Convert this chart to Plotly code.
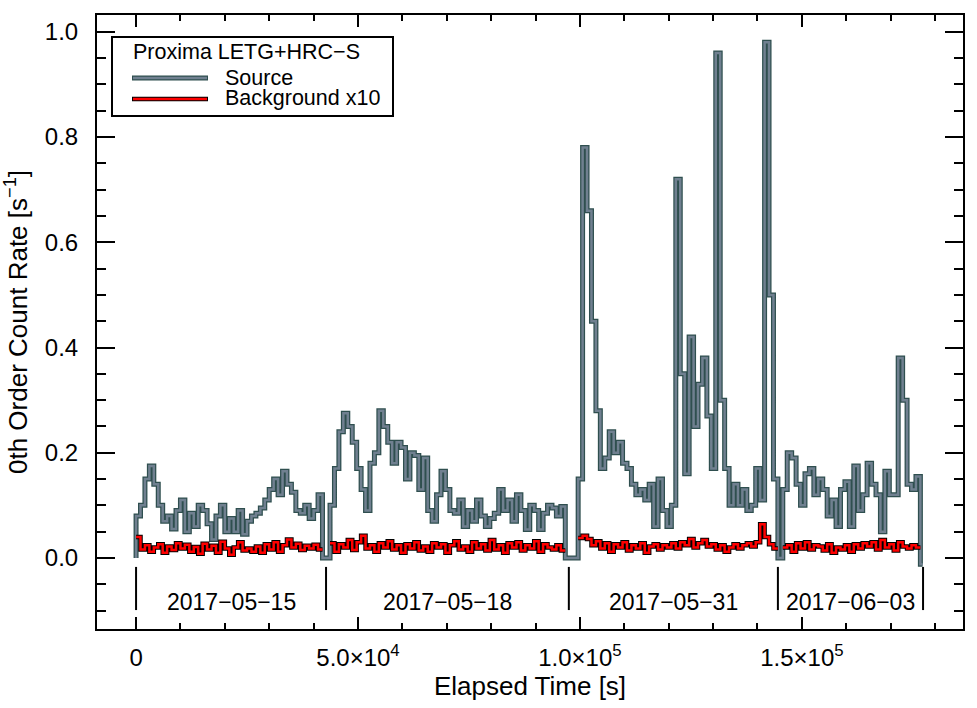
import numpy as np
import plotly.graph_objects as go

# ---------------- data ----------------
BIN = 1000.0  # s
seg_starts = [0.0, 43700.0, 99600.0, 145700.0]

src_seg1 = [0.08, 0.10, 0.15, 0.175, 0.14, 0.10, 0.07, 0.08, 0.055, 0.09, 0.11, 0.05, 0.085, 0.06,
            0.10, 0.09, 0.065, 0.035, 0.08, 0.10, 0.05, 0.075, 0.05, 0.09, 0.045, 0.07, 0.08, 0.085,
            0.095, 0.11, 0.13, 0.15, 0.12, 0.165, 0.14, 0.125, 0.09, 0.085, 0.10, 0.075, 0.09, 0.12]
src_seg2 = [0.10, 0.17, 0.24, 0.275, 0.25, 0.22, 0.17, 0.13, 0.09, 0.18, 0.20, 0.28, 0.25, 0.22,
            0.18, 0.22, 0.21, 0.15, 0.20, 0.195, 0.13, 0.19, 0.09, 0.07, 0.12, 0.165, 0.13, 0.09,
            0.085, 0.11, 0.06, 0.09, 0.07, 0.11, 0.08, 0.06, 0.075, 0.085, 0.13, 0.09, 0.11, 0.07,
            0.12, 0.09, 0.054, 0.10, 0.09, 0.054, 0.085, 0.10, 0.095, 0.08, 0.098]
src_seg3 = [0.15, 0.78, 0.66, 0.45, 0.28, 0.17, 0.19, 0.24, 0.20, 0.22, 0.18, 0.17, 0.14, 0.12,
            0.13, 0.11, 0.14, 0.06, 0.15, 0.09, 0.06, 0.10, 0.72, 0.35, 0.16, 0.42, 0.25, 0.33,
            0.38, 0.27, 0.17, 0.96, 0.30, 0.17, 0.10, 0.14, 0.10, 0.13, 0.09, 0.10, 0.17, 0.11,
            0.98, 0.50, 0.15]
src_seg4 = [0.13, 0.20, 0.19, 0.14, 0.10, 0.16, 0.17, 0.12, 0.15, 0.13, 0.08, 0.11, 0.06, 0.13,
            0.145, 0.06, 0.175, 0.09, 0.12, 0.18, 0.14, 0.12, 0.05, 0.165, 0.12, 0.12, 0.38, 0.30,
            0.14, 0.13, 0.155]
src_end_value = -0.012

bkg_seg1 = [0.040, 0.016, 0.024, 0.012, 0.020, 0.026, 0.010, 0.022, 0.015, 0.028, 0.018, 0.025,
            0.012, 0.021, 0.008, 0.027, 0.016, 0.023, 0.010, 0.031, 0.018, 0.006, 0.020, 0.030,
            0.014, 0.018, 0.012, 0.022, 0.010, 0.026, 0.016, 0.030, 0.012, 0.024, 0.035, 0.020,
            0.027, 0.015, 0.023, 0.018, 0.025, 0.016]
bkg_seg2 = [0.028, 0.012, 0.026, 0.020, 0.034, 0.015, 0.030, 0.042, 0.018, 0.024, 0.012, 0.028,
            0.020, 0.032, 0.016, 0.024, 0.010, 0.026, 0.018, 0.030, 0.014, 0.022, 0.012, 0.028,
            0.020, 0.026, 0.010, 0.024, 0.032, 0.016, 0.022, 0.012, 0.030, 0.018, 0.026, 0.014,
            0.034, 0.016, 0.024, 0.010, 0.028, 0.020, 0.030, 0.014, 0.024, 0.018, 0.032, 0.012,
            0.026, 0.020, 0.016, 0.024, 0.014]
bkg_seg3 = [0.038, 0.042, 0.036, 0.024, 0.032, 0.018, 0.028, 0.012, 0.026, 0.020, 0.030, 0.014,
            0.024, 0.018, 0.028, 0.010, 0.022, 0.026, 0.016, 0.024, 0.020, 0.028, 0.018, 0.030,
            0.024, 0.036, 0.020, 0.028, 0.034, 0.022, 0.026, 0.016, 0.024, 0.012, 0.020, 0.026,
            0.018, 0.024, 0.028, 0.022, 0.030, 0.064, 0.040, 0.026, 0.018]
bkg_seg4 = [0.020, 0.024, 0.012, 0.028, 0.018, 0.030, 0.016, 0.024, 0.022, 0.014, 0.026, 0.010,
            0.020, 0.016, 0.024, 0.012, 0.026, 0.018, 0.028, 0.022, 0.030, 0.016, 0.034, 0.020,
            0.026, 0.014, 0.030, 0.022, 0.018, 0.024, 0.020]

obs_bounds = [0.0, 42800.0, 97500.0, 144600.0, 177300.0]
obs_dates = ["2017−05−15", "2017−05−18", "2017−05−31", "2017−06−03"]

x_tickvals = [0, 50000, 100000, 150000]
x_ticktext = ["0", "5.0×10<sup>4</sup>", "1.0×10<sup>5</sup>", "1.5×10<sup>5</sup>"]

# ---------------- build step curves ----------------
src_segs = [src_seg1, src_seg2, src_seg3, src_seg4]
bkg_segs = [bkg_seg1, bkg_seg2, bkg_seg3, bkg_seg4]

sx, sy = [0.0], [0.0]
for s0, vals in zip(seg_starts, src_segs):
    n = len(vals)
    sx += list(s0 + BIN * np.arange(n))
    sy += list(vals)
    end = s0 + BIN * n
    if s0 != seg_starts[-1]:
        sx.append(end); sy.append(0.0)
    else:
        sx.append(end); sy.append(src_end_value)
        sx.append(end + 500); sy.append(src_end_value)

bx, by = [], []
for s0, vals in zip(seg_starts, bkg_segs):
    n = len(vals)
    bx += list(s0 + BIN * np.arange(n)) + [s0 + BIN * n, None]
    by += list(vals) + [vals[-1], None]

FONT = "Liberation Sans, Arial, Helvetica, sans-serif"
fig = go.Figure()

# source: dark outline + slate fill
fig.add_trace(go.Scatter(x=sx, y=sy, mode="lines", line=dict(shape="hv", color="#2F4F4F", width=5),
                         showlegend=False, hoverinfo="skip"))
fig.add_trace(go.Scatter(x=sx, y=sy, mode="lines", line=dict(shape="hv", color="#708090", width=2.5),
                         showlegend=False))
# background x10: black outline + red
fig.add_trace(go.Scatter(x=bx, y=by, mode="lines", connectgaps=False,
                         line=dict(shape="hv", color="black", width=4.5), showlegend=False, hoverinfo="skip"))
fig.add_trace(go.Scatter(x=bx, y=by, mode="lines", connectgaps=False,
                         line=dict(shape="hv", color="#FF0000", width=2.5), showlegend=False))

# observation boundaries and date labels
mx, my = [], []
for b in obs_bounds:
    mx += [b, b, None]
    my += [-0.017, -0.099, None]
fig.add_trace(go.Scatter(x=mx, y=my, mode="lines", line=dict(color="black", width=2),
                         showlegend=False, hoverinfo="skip"))
for i, d in enumerate(obs_dates):
    fig.add_annotation(x=(obs_bounds[i] + obs_bounds[i + 1]) / 2, y=-0.084, text=d, showarrow=False,
                       font=dict(family=FONT, size=23, color="black"), xanchor="center", yanchor="middle")

# ---------------- legend (drawn manually) ----------------
L, R, T, B = 97, 963, 15, 629
W, H = R - L, B - T
def px(x): return (x - L) / W
def py(y): return (B - y) / H

fig.add_shape(type="rect", xref="paper", yref="paper", x0=px(112), x1=px(393), y0=py(116), y1=py(37),
              line=dict(color="black", width=2), fillcolor="white", layer="above")
fig.add_shape(type="line", xref="paper", yref="paper", x0=px(132), x1=px(208), y0=py(78), y1=py(78),
              line=dict(color="#2F4F4F", width=5), layer="above")
fig.add_shape(type="line", xref="paper", yref="paper", x0=px(133), x1=px(207), y0=py(78), y1=py(78),
              line=dict(color="#708090", width=2.5), layer="above")
fig.add_shape(type="line", xref="paper", yref="paper", x0=px(132), x1=px(208), y0=py(99), y1=py(99),
              line=dict(color="black", width=4.5), layer="above")
fig.add_shape(type="line", xref="paper", yref="paper", x0=px(133), x1=px(207), y0=py(99), y1=py(99),
              line=dict(color="#FF0000", width=2.5), layer="above")
for txt, xx, yy in [("Proxima LETG+HRC−S", 131, 52), ("Source", 223, 77.5), ("Background x10", 223, 98.5)]:
    fig.add_annotation(xref="paper", yref="paper", x=px(xx), y=py(yy), text=txt, showarrow=False,
                       xanchor="left", yanchor="middle", font=dict(family=FONT, size=21.5, color="black"))

axis_common = dict(showline=True, linecolor="black", linewidth=2, mirror="allticks", ticks="inside",
                   tickcolor="black", tickwidth=2, showgrid=False, zeroline=False,
                   tickfont=dict(family=FONT, size=24, color="black"))

fig.update_xaxes(range=[-8800, 186300], tickmode="array", tickvals=x_tickvals, ticktext=x_ticktext,
                 ticklen=12, ticklabelstandoff=6,
                 minor=dict(tickmode="linear", tick0=0, dtick=10000, ticks="inside", ticklen=6,
                            tickwidth=2, tickcolor="black", showgrid=False),
                 title=dict(text="Elapsed Time [s]", font=dict(family=FONT, size=26, color="black"),
                            standoff=2),
                 **axis_common)
fig.update_yaxes(range=[-0.135, 1.032], tick0=0, dtick=0.2, tickformat=".1f", ticklen=18,
                 ticklabelstandoff=12,
                 minor=dict(tickmode="linear", tick0=0, dtick=0.05, ticks="inside", ticklen=9,
                            tickwidth=2, tickcolor="black", showgrid=False),
                 title=dict(text="0th Order Count Rate [s<sup>−1</sup>]",
                            font=dict(family=FONT, size=26, color="black"), standoff=10),
                 **axis_common)

fig.update_layout(width=977, height=708, margin=dict(l=97, r=14, t=15, b=79, autoexpand=False),
                  plot_bgcolor="white", paper_bgcolor="white", showlegend=False,
                  font=dict(family=FONT, color="black"))

fig.write_html("out.html")
